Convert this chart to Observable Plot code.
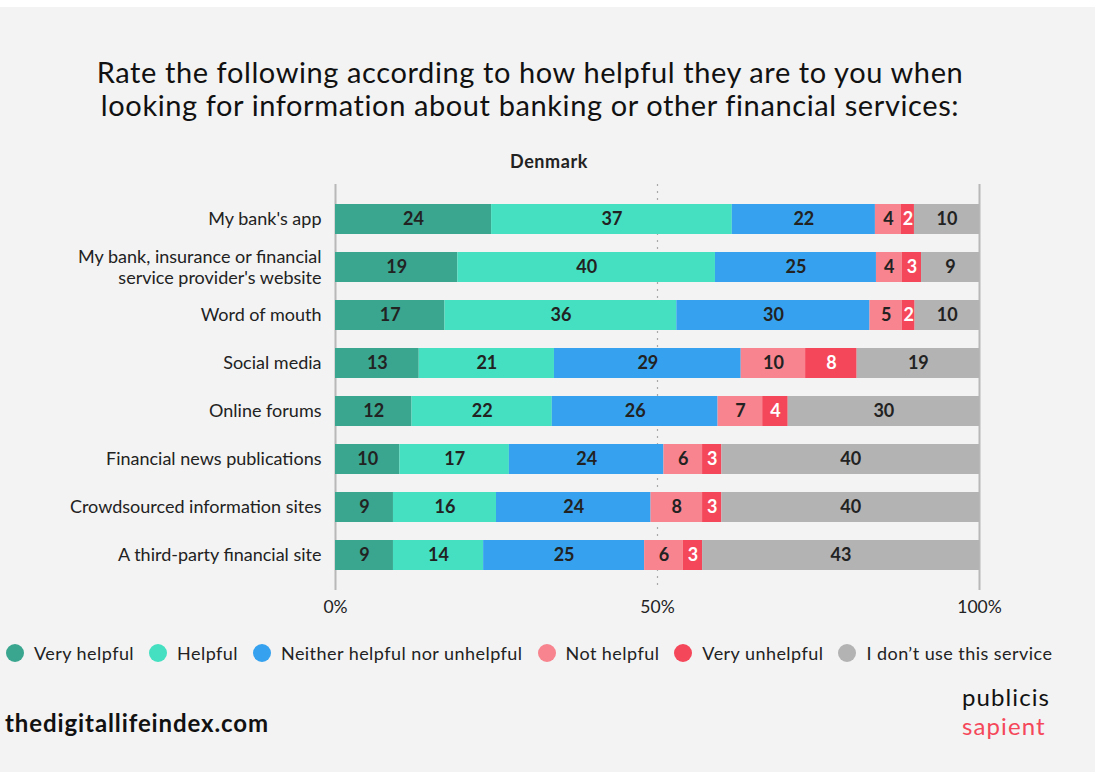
<!DOCTYPE html>
<html>
<head>
<meta charset="utf-8">
<script src="https://cdn.jsdelivr.net/npm/d3@7"></script>
<script src="https://cdn.jsdelivr.net/npm/@observablehq/plot@0.6"></script>
<style>
  html, body { margin: 0; padding: 0; background: #ffffff; width: 1101px; height: 779px; overflow: hidden; }
  #bg { position: absolute; left: 0; top: 7px; width: 1095px; height: 765px; background: #f3f3f3; }
  .abs { position: absolute; font-family: Lato, "Open Sans", sans-serif; color: #111; }
  #title { left: 0; width: 1060px; top: 55px; text-align: center; font-size: 29px; letter-spacing: 0.6px; line-height: 33px; font-weight: 400; }
  #subtitle { left: 449px; width: 200px; top: 150px; text-align: center; font-size: 18px; letter-spacing: 0.6px; font-weight: 700; color: #222; }
  #chart { position: absolute; left: 0; top: 180px; }
  #legend { left: 6px; top: 642px; display: flex; align-items: center; font-size: 18px; letter-spacing: 0.45px; color: #222; white-space: nowrap; }
  #legend .item { display: flex; align-items: center; margin-right: 15px; }
  #legend .dot { width: 18px; height: 18px; border-radius: 50%; margin-right: 10px; }
  #footer { left: 5px; top: 708px; font-size: 24px; letter-spacing: 0.9px; font-weight: 700; color: #111; }
  .logo { left: 962px; font-size: 24px; font-weight: 400; line-height: 24px; letter-spacing: 1.1px; }
</style>
</head>
<body>
<div id="bg"></div>
<div id="title" class="abs">Rate the following according to how helpful they are to you when<br>looking for information about banking or other financial services:</div>
<div id="subtitle" class="abs">Denmark</div>
<div id="chart"></div>
<div id="legend" class="abs"></div>
<div id="footer" class="abs">thedigitallifeindex.com</div>
<div class="abs logo" style="top:685px;color:#111">publicis</div>
<div class="abs logo" style="top:714px;color:#f5475a">sapient</div>
<script>
const categories = [
  "My bank's app",
  "My bank, insurance or financial service provider's website",
  "Word of mouth",
  "Social media",
  "Online forums",
  "Financial news publications",
  "Crowdsourced information sites",
  "A third-party financial site"
];
const categoryLabels = [
  "My bank's app",
  "My bank, insurance or financial\nservice provider's website",
  "Word of mouth",
  "Social media",
  "Online forums",
  "Financial news publications",
  "Crowdsourced information sites",
  "A third-party financial site"
];
const responses = ["Very helpful", "Helpful", "Neither helpful nor unhelpful", "Not helpful", "Very unhelpful", "I don’t use this service"];
const colors = ["#3aa68f", "#45e0c1", "#36a2ef", "#f7848e", "#f5475a", "#b3b3b3"];

const veryHelpful   = [24, 19, 17, 13, 12, 10, 9, 9];
const helpful       = [37, 40, 36, 21, 22, 17, 16, 14];
const neither       = [22, 25, 30, 29, 26, 24, 24, 25];
const notHelpful    = [4, 4, 5, 10, 7, 6, 8, 6];
const veryUnhelpful = [2, 3, 2, 8, 4, 3, 3, 3];
const dontUse       = [10, 9, 10, 19, 30, 40, 40, 43];
const xTicks = [0, 0.5, 1];

const series = [veryHelpful, helpful, neither, notHelpful, veryUnhelpful, dontUse];
const data = categories.flatMap((c, i) => responses.map((r, j) => ({category: c, response: r, value: series[j][i]})));

const stackOpts = {x: "value", y: "category", z: "response", order: responses, offset: "normalize"};

const chart = Plot.plot({
  width: 1101,
  height: 445,
  marginLeft: 335,
  marginRight: 122,
  marginTop: 4,
  marginBottom: 35,
  style: {background: "transparent", fontFamily: "Lato, sans-serif", color: "#222"},
  x: {domain: [0, 1]},
  y: {domain: categories, padding: 0.38, axis: null},
  color: {domain: responses, range: colors},
  marks: [
    Plot.ruleX([0.5], {stroke: "#a8a8a8", strokeWidth: 1.2, strokeDasharray: "2,5"}),
    Plot.ruleX([0, 1], {stroke: "#b8b8b8", strokeWidth: 2}),
    Plot.barX(data, Plot.stackX({...stackOpts, fill: "response"})),
    Plot.text(data, Plot.stackX({...stackOpts, text: d => d.response === "Very unhelpful" ? "" : String(d.value), fill: "#222", fontSize: 18, fontWeight: 700, letterSpacing: 0.5})),
    Plot.text(data, Plot.stackX({...stackOpts, text: d => d.response === "Very unhelpful" ? String(d.value) : "", fill: "#ffffff", fontSize: 18, fontWeight: 700})),
    Plot.text(categories, {y: d => d, text: (d, i) => categoryLabels[i], frameAnchor: "left", textAnchor: "end", dx: -14, dy: -1, fontSize: 18, letterSpacing: 0.45, lineHeight: 1.17, fill: "#222"}),
    Plot.axisX({ticks: xTicks, tickFormat: d3.format(".0%"), tickSize: 0, tickPadding: 10, fontSize: 17.5, label: null, fill: "#222"})
  ]
});
document.getElementById("chart").appendChild(chart);

const legend = document.getElementById("legend");
responses.forEach((r, i) => {
  const item = document.createElement("div");
  item.className = "item";
  const dot = document.createElement("div");
  dot.className = "dot";
  dot.style.background = colors[i];
  const label = document.createElement("span");
  label.textContent = r;
  item.appendChild(dot);
  item.appendChild(label);
  legend.appendChild(item);
});
</script>
</body>
</html>
